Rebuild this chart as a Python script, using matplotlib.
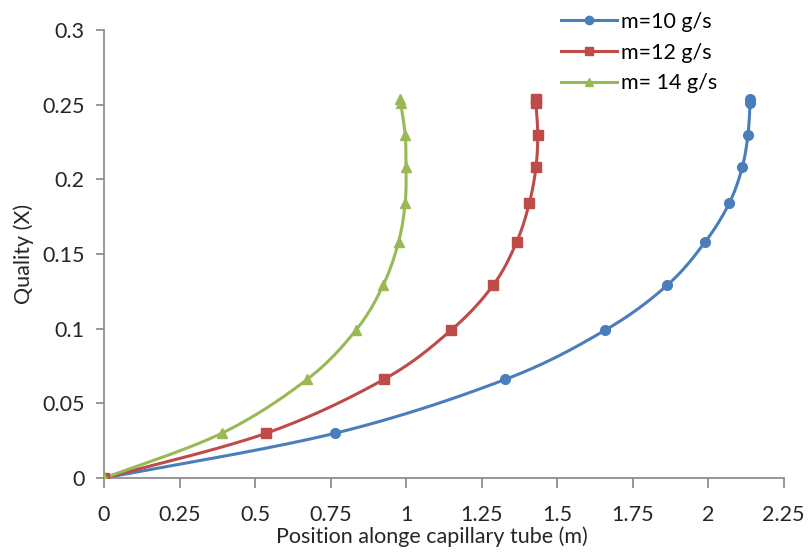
import numpy as np
import matplotlib
matplotlib.use("Agg")
import matplotlib.pyplot as plt

plt.rcParams['font.family'] = ['Lato', 'DejaVu Sans']

# quality levels (same for all three flow rates)
quality = [0, 0.030, 0.066, 0.099, 0.129, 0.158, 0.184, 0.208, 0.230, 0.251, 0.254]

pos_m10 = [0, 0.765, 1.328, 1.659, 1.864, 1.990, 2.070, 2.113, 2.132, 2.139, 2.139]
pos_m12 = [0, 0.537, 0.926, 1.149, 1.288, 1.366, 1.408, 1.430, 1.436, 1.430, 1.430]
pos_m14 = [0, 0.390, 0.672, 0.834, 0.924, 0.975, 0.997, 1.000, 0.997, 0.982, 0.980]

labels = ["m=10 g/s", "m=12 g/s", "m= 14 g/s"]
colors = ["#4a7ebb", "#be4b48", "#98b954"]
markers = ["o", "s", "^"]


def smooth(xs, ys, n=24):
    """Catmull-Rom style smoothing like Excel's 'smoothed line'."""
    p = np.column_stack([xs, ys]).astype(float)
    p = np.vstack([p[0], p, p[-1]])
    out = []
    for i in range(1, len(p) - 2):
        p0, p1, p2, p3 = p[i - 1], p[i], p[i + 1], p[i + 2]
        t = np.linspace(0, 1, n, endpoint=False)[:, None]
        seg = 0.5 * ((2 * p1) + (-p0 + p2) * t + (2 * p0 - 5 * p1 + 4 * p2 - p3) * t ** 2
                     + (-p0 + 3 * p1 - 3 * p2 + p3) * t ** 3)
        out.append(seg)
    out.append(p[-2][None, :])
    out = np.vstack(out)
    return out[:, 0], out[:, 1]


fig = plt.figure(figsize=(8.09, 5.52), dpi=100)
ax = fig.add_axes([0.1286, 0.134, 0.840, 0.8116])

for xs, lab, c, mk in zip([pos_m10, pos_m12, pos_m14], labels, colors, markers):
    sx, sy = smooth(xs, quality)
    ax.plot(sx, sy, color=c, linewidth=2.2, zorder=2)
    ax.plot(xs, quality, linestyle="none", marker=mk, color=c, markersize=7, zorder=3)
    ax.plot([], [], color=c, linewidth=2.2, marker=mk, markersize=6, label=lab)

ax.set_xlim(0, 2.25)
ax.set_ylim(0, 0.3)
ax.set_xticks([0, 0.25, 0.5, 0.75, 1, 1.25, 1.5, 1.75, 2, 2.25])
ax.set_xticklabels(["0", "0.25", "0.5", "0.75", "1", "1.25", "1.5", "1.75", "2", "2.25"])
ax.set_yticks([0, 0.05, 0.1, 0.15, 0.2, 0.25, 0.3])
ax.set_yticklabels(["0", "0.05", "0.1", "0.15", "0.2", "0.25", "0.3"])

for s in ["top", "right"]:
    ax.spines[s].set_visible(False)
for s in ["left", "bottom"]:
    ax.spines[s].set_color("#868686")
    ax.spines[s].set_linewidth(1.2)
ax.tick_params(axis="both", colors="#868686", width=1.2, labelsize=15.5,
               labelcolor="#262626")
ax.tick_params(axis="x", length=7.5, pad=12)
ax.tick_params(axis="y", length=6, pad=8)

ax.set_xlabel("Position alonge capillary tube (m)", fontsize=15.5, color="#262626")
ax.set_ylabel("Quality (X)", fontsize=15.5, color="#262626")
ax.xaxis.set_label_coords(0.483, -0.132)
ax.xaxis.label.set_va("center")
ax.yaxis.set_label_coords(-0.118, 0.5)
ax.yaxis.label.set_va("center")

ax.legend(loc="upper left", bbox_to_anchor=(0.66, 1.06), frameon=False, fontsize=15.5,
          handlelength=2.6, handletextpad=0.2, labelspacing=0.5, borderaxespad=0)

fig.savefig("out.png", dpi=100)
